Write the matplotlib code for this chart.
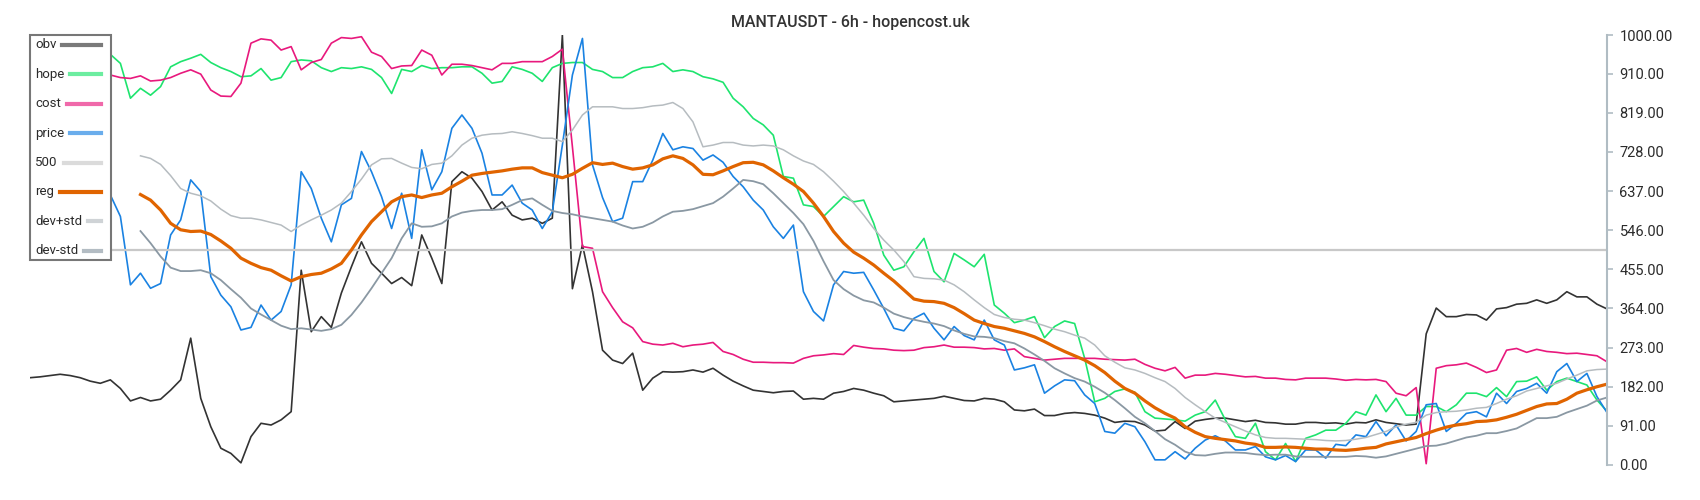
import numpy as np
import matplotlib
matplotlib.use("Agg")
import matplotlib.pyplot as plt
from matplotlib.lines import Line2D
from matplotlib.patches import Rectangle

plt.rcParams['font.family'] = ['Roboto', 'DejaVu Sans']

title = "MANTAUSDT - 6h - hopencost.uk"

obv = [203, 205, 208, 211, 208, 203, 195, 190, 198, 178,
       149, 157, 149, 153, 174, 198, 295, 155, 89, 39,
       27, 5, 66, 97, 93, 105, 124, 453, 310, 345,
       320, 400, 461, 519, 469, 446, 422, 436, 417, 535,
       481, 422, 659, 682, 667, 636, 593, 612, 581, 570,
       574, 562, 574, 1000, 410, 512, 403, 267, 244, 236,
       260, 174, 202, 217, 216, 217, 221, 216, 225, 209,
       195, 184, 174, 171, 168, 171, 172, 153, 155, 153,
       167, 171, 178, 174, 167, 161, 147, 149, 151, 153,
       155, 160, 155, 150, 149, 155, 153, 147, 128, 126,
       130, 115, 115, 120, 122, 120, 116, 109, 99, 102,
       101, 93, 79, 81, 101, 85, 102, 106, 109, 109,
       105, 101, 104, 99, 98, 95, 95, 99, 99, 97,
       98, 95, 99, 98, 105, 99, 96, 93, 95, 305,
       365, 345, 345, 350, 349, 337, 363, 366, 374, 376,
       384, 376, 384, 403, 391, 391, 374, 363]

hope = [950, 955, 948, 960, 952, 958, 950, 955, 955, 934,
        853, 876, 860, 880, 926, 938, 946, 955, 936, 924,
        915, 903, 905, 922, 895, 901, 938, 942, 940, 924,
        915, 924, 922, 926, 920, 901, 864, 920, 915, 929,
        922, 924, 924, 926, 926, 911, 888, 892, 926, 920,
        911, 892, 924, 934, 936, 936, 920, 915, 901, 901,
        915, 924, 926, 934, 915, 919, 915, 903, 898, 890,
        853, 833, 806, 791, 767, 671, 667, 605, 601, 578,
        601, 624, 612, 616, 562, 488, 453, 461, 496, 527,
        450, 426, 492, 477, 461, 490, 372, 353, 331, 337,
        345, 296, 322, 335, 329, 248, 147, 155, 171, 177,
        169, 124, 109, 107, 105, 102, 116, 124, 151, 105,
        66, 62, 97, 31, 12, 50, 8, 62, 70, 81,
        81, 97, 124, 116, 163, 124, 155, 116, 116, 136,
        136, 124, 140, 167, 167, 159, 180, 159, 194, 195,
        205, 174, 194, 202, 194, 186, 151, 125]

cost = [910, 912, 905, 908, 910, 906, 903, 905, 907, 901,
        899, 905, 893, 895, 901, 911, 919, 909, 872, 858,
        857, 888, 981, 991, 988, 965, 973, 919, 936, 943,
        981, 994, 992, 996, 960, 950, 922, 928, 929, 965,
        953, 907, 932, 932, 929, 924, 919, 934, 934, 938,
        938, 938, 950, 967, 740, 508, 504, 403, 366, 333,
        319, 287, 281, 279, 283, 275, 279, 281, 285, 264,
        257, 246, 239, 239, 238, 238, 237, 248, 254, 256,
        259, 257, 278, 274, 271, 270, 267, 266, 267, 273,
        275, 279, 274, 274, 273, 270, 271, 267, 270, 252,
        248, 244, 246, 248, 248, 248, 248, 246, 245, 244,
        246, 234, 225, 219, 227, 202, 209, 209, 213, 211,
        208, 205, 206, 202, 202, 199, 198, 202, 202, 202,
        200, 197, 199, 198, 199, 194, 167, 161, 180, 3,
        225, 231, 233, 237, 227, 215, 221, 267, 271, 262,
        269, 264, 262, 259, 260, 257, 254, 240]

price = [640, 650, 635, 660, 645, 655, 640, 630, 628, 578,
         419, 446, 411, 422, 535, 570, 663, 636, 438, 395,
         368, 314, 320, 372, 337, 357, 419, 682, 643, 574,
         519, 605, 620, 729, 682, 624, 550, 632, 527, 733,
         640, 682, 783, 814, 783, 725, 628, 628, 651, 609,
         593, 550, 589, 744, 907, 992, 698, 622, 566, 574,
         659, 659, 709, 771, 733, 740, 736, 709, 721, 704,
         671, 647, 616, 593, 554, 527, 558, 403, 357, 335,
         419, 450, 446, 448, 407, 364, 318, 312, 341, 353,
         318, 291, 322, 301, 291, 337, 291, 279, 221, 226,
         233, 167, 184, 198, 196, 163, 143, 78, 74, 97,
         89, 54, 12, 12, 31, 14, 39, 58, 68, 56,
         35, 35, 43, 19, 12, 22, 8, 35, 35, 16,
         48, 45, 70, 66, 101, 68, 93, 56, 78, 140,
         143, 78, 97, 120, 124, 112, 167, 143, 171, 178,
         190, 167, 217, 236, 194, 213, 159, 122]

level_500 = 500

na = [np.nan] * 11
reg = na + [629, 616, 593, 562, 547, 543, 544, 536, 521,
            504, 481, 469, 459, 453, 440, 428, 438, 443, 446,
            456, 469, 500, 535, 566, 589, 612, 624, 628, 622,
            628, 632, 647, 660, 674, 678, 681, 684, 688, 691,
            691, 680, 674, 668, 676, 690, 703, 699, 702, 694,
            688, 691, 698, 712, 719, 713, 698, 676, 675, 684,
            694, 703, 704, 698, 684, 668, 653, 636, 609, 578,
            543, 516, 495, 481, 465, 446, 428, 407, 386, 381,
            380, 376, 366, 352, 337, 329, 322, 318, 312, 306,
            298, 287, 275, 264, 254, 244, 231, 215, 195, 178,
            167, 149, 133, 120, 109, 89, 76, 66, 62, 59,
            56, 51, 48, 41, 41, 42, 41, 39, 37, 37,
            35, 34, 36, 39, 41, 49, 54, 59, 64, 73,
            81, 88, 93, 96, 101, 102, 105, 111, 118, 127,
            136, 142, 143, 153, 167, 175, 182, 188]

dev_plus = na + [719, 713, 699, 673, 643, 632, 626, 614, 595,
                 580, 574, 574, 570, 564, 558, 543, 558, 570, 581,
                 593, 609, 636, 665, 698, 712, 713, 702, 692, 689,
                 699, 702, 719, 744, 760, 767, 770, 771, 775, 771,
                 766, 760, 760, 752, 779, 814, 833, 833, 833, 829,
                 829, 831, 835, 837, 843, 829, 798, 740, 744, 750,
                 750, 744, 742, 744, 742, 733, 719, 707, 699, 682,
                 660, 636, 609, 581, 550, 523, 500, 473, 438, 434,
                 433, 430, 419, 403, 384, 366, 350, 343, 339, 337,
                 331, 324, 316, 310, 302, 295, 279, 254, 239, 226,
                 221, 213, 203, 194, 178, 157, 140, 124, 109, 99,
                 89, 79, 70, 64, 62, 62, 61, 60, 59, 57,
                 56, 57, 60, 64, 71, 78, 89, 95, 99, 116,
                 122, 124, 125, 128, 132, 134, 143, 153, 161, 172,
                 178, 184, 190, 200, 209, 219, 222, 223]

dev_minus = na + [544, 516, 485, 459, 451, 451, 453, 446, 430,
                  409, 389, 364, 350, 337, 324, 316, 318, 315, 312,
                  316, 326, 349, 378, 411, 446, 481, 527, 562, 554,
                  555, 562, 578, 587, 591, 593, 593, 595, 605, 616,
                  620, 605, 591, 586, 583, 578, 574, 570, 566, 557,
                  550, 554, 564, 578, 589, 591, 595, 602, 609, 624,
                  643, 663, 660, 653, 632, 609, 586, 560, 521, 474,
                  430, 409, 394, 383, 378, 366, 352, 344, 338, 333,
                  329, 323, 313, 305, 299, 298, 295, 288, 283, 271,
                  257, 242, 225, 213, 202, 194, 182, 168, 151, 132,
                  112, 97, 79, 60, 47, 31, 23, 22, 26, 29,
                  29, 28, 25, 23, 24, 24, 20, 19, 19, 19,
                  19, 19, 21, 20, 17, 20, 26, 32, 38, 44,
                  45, 50, 57, 64, 68, 74, 74, 79, 85, 97,
                  109, 109, 112, 122, 130, 138, 150, 157]

yticks = [0, 91, 182, 273, 364, 455, 546, 637, 728, 819, 910, 1000]

n = len(obv)
x = np.arange(n)
W, H = 1700, 500

fig = plt.figure(figsize=(17, 5), dpi=100)
ax = fig.add_axes([30 / W, 35 / H, 1577 / W, 430 / H])

series = [
    ("obv", obv, "#333333", 1.2),
    ("hope", hope, "#1ee46e", 1.2),
    ("cost", cost, "#e8197d", 1.2),
    ("price", price, "#1a82e2", 1.2),
    ("500", [level_500] * n, "#c8c8c8", 1.6),
    ("reg", reg, "#e06400", 2.3),
    ("dev+std", dev_plus, "#b6bcc0", 1.1),
    ("dev-std", dev_minus, "#8a98a3", 1.3),
]
for name, vals, col, lw in series:
    ax.plot(x, vals, color=col, lw=lw)

ax.set_xlim(0, n - 1)
ax.set_ylim(0, 1000)
ax.set_xticks([])
for s in ["left", "top", "bottom"]:
    ax.spines[s].set_visible(False)
ax.spines["right"].set_color("#b0bcc3")
ax.spines["right"].set_linewidth(1.5)
ax.yaxis.tick_right()
ax.set_yticks(yticks)
ax.set_yticklabels(["%.2f" % v for v in yticks])
ax.tick_params(axis="y", colors="#b0bcc3", length=4, width=1.2, labelsize=10.5,
               labelcolor="#2b2b2b", pad=5)

# legend box drawn by hand: label left, line to the right edge
def fx(px):
    return px / W

def fy(py):
    return 1 - py / H

box = Rectangle((fx(30), fy(260)), 81 / W, 225 / H, transform=fig.transFigure,
                facecolor="white", edgecolor="#777777", lw=1.5, zorder=10)
fig.add_artist(box)
fig.canvas.draw()
renderer = fig.canvas.get_renderer()
for k, (name, vals, col, lw) in enumerate(series):
    yy = 45 + 29.4 * k
    t = fig.text(fx(35), fy(yy), name, fontsize=9.5, color="#2b2b2b",
                 va="center", ha="left", zorder=11)
    x1 = t.get_window_extent(renderer).x1
    a = 1.0 if name == "reg" else 0.65
    fig.add_artist(Line2D([fx(x1 + 6), fx(101)], [fy(yy), fy(yy)],
                          transform=fig.transFigure, color=col, lw=3,
                          alpha=a, zorder=11))

fig.suptitle(title, x=0.5, y=0.956, fontsize=11.5, fontweight="medium",
             color="#333333", va="center")

fig.savefig("out.png", dpi=100)
